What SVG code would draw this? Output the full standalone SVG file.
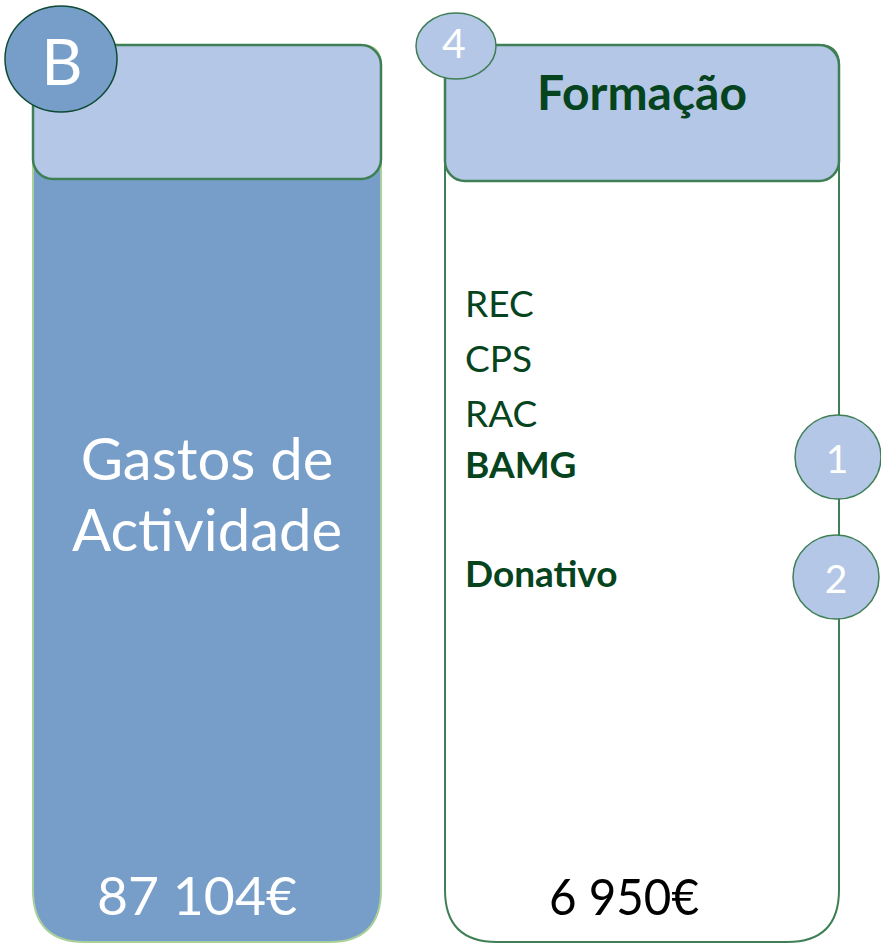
<svg xmlns="http://www.w3.org/2000/svg" width="881" height="943" viewBox="0 0 881 943">
<style>
text{font-family:Lato,"Liberation Sans",sans-serif}
.hdr{fill:#b4c7e7;stroke:#3f7f55;stroke-width:2.5}
.w{fill:#fff}
.g{fill:#064420}
.badge{fill:#b4c7e7;stroke:#3f7f55;stroke-width:1.5}
.item{font-size:37px}
</style>
<g id="panel-left">
<path d="M33,65 Q33,45 53,45 L361,45 Q381,45 381,65 L381,890 Q381,942 329,942 L85,942 Q33,942 33,890 Z" fill="#779ec9" stroke="#a9cf9a" stroke-width="2"/>
<rect class="hdr" x="33" y="45" width="348" height="134" rx="20"/>
<text class="w" x="207" y="480" font-size="58" text-anchor="middle">Gastos de</text>
<text class="w" x="207" y="551" font-size="58" text-anchor="middle">Actividade</text>
<text class="w" x="197" y="915" font-size="53" text-anchor="middle" textLength="200" lengthAdjust="spacingAndGlyphs">87 104€</text>
</g>
<g id="badge-B">
<ellipse cx="61" cy="59" rx="56" ry="53" fill="#779ec9" stroke="#0e4a32" stroke-width="1.5"/>
<text class="w" x="62" y="85" font-size="64" text-anchor="middle">B</text>
</g>
<g id="panel-right">
<path d="M445,65 Q445,45 465,45 L819,45 Q839,45 839,65 L839,890 Q839,942 787,942 L497,942 Q445,942 445,890 Z" fill="#fff" stroke="#3f7f55" stroke-width="2"/>
<rect class="hdr" x="445" y="45" width="394" height="136" rx="20"/>
<text class="g" x="642" y="110" font-size="47" font-weight="bold" text-anchor="middle" textLength="210" lengthAdjust="spacingAndGlyphs">Formação</text>
<text class="g item" x="465" y="317">REC</text>
<text class="g item" x="465" y="372">CPS</text>
<text class="g item" x="465" y="427">RAC</text>
<text class="g item" x="465" y="478" font-weight="bold">BAMG</text>
<text class="g item" x="465" y="587" font-weight="bold">Donativo</text>
<text x="624" y="915" font-size="50" text-anchor="middle" fill="#000" textLength="150" lengthAdjust="spacingAndGlyphs">6 950€</text>
</g>
<g id="badge-4">
<ellipse class="badge" cx="456" cy="46" rx="40" ry="33"/>
<text class="w" x="454" y="58" font-size="41" text-anchor="middle">4</text>
</g>
<g id="badge-1">
<ellipse class="badge" cx="838" cy="457" rx="43" ry="42"/>
<text class="w" x="837" y="473" font-size="39" text-anchor="middle">1</text>
</g>
<g id="badge-2">
<ellipse class="badge" cx="836" cy="577" rx="43" ry="42"/>
<text class="w" x="836" y="593" font-size="39" text-anchor="middle">2</text>
</g>
<g id="connectors"></g>
</svg>
